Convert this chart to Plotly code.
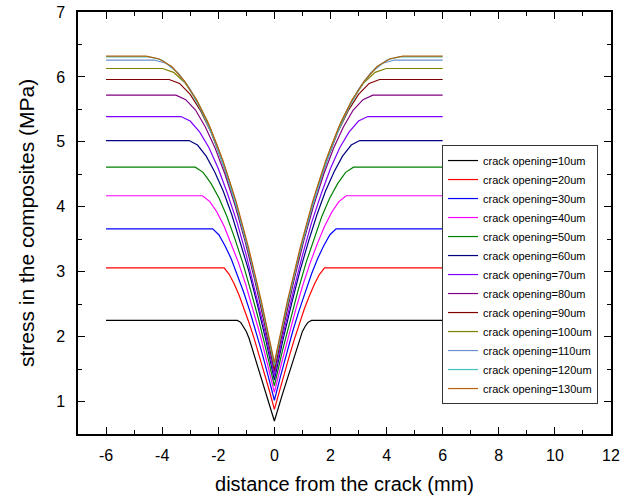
import plotly.graph_objects as go

labels = ["crack opening=10um", "crack opening=20um", "crack opening=30um",
          "crack opening=40um", "crack opening=50um", "crack opening=60um",
          "crack opening=70um", "crack opening=80um", "crack opening=90um",
          "crack opening=100um", "crack opening=110um", "crack opening=120um",
          "crack opening=130um"]

colors = ["#000000", "#FF0000", "#0000FF", "#FF00FF", "#008000", "#000080",
          "#8000FF", "#800080", "#800000", "#808000", "#6A8FCC", "#40BFBF", "#B8600A"]

# right half (x >= 0) of each symmetric curve; the plateau runs to x = 6
x_half = [
    [0, 0.30, 0.60, 0.90, 1.00, 1.10, 1.20, 1.32],
    [0, 0.18, 0.36, 0.54, 0.72, 0.90, 1.07, 1.25, 1.43, 1.61, 1.79],
    [0, 0.22, 0.44, 0.66, 0.88, 1.10, 1.32, 1.54, 1.76, 1.98, 2.20],
    [0, 0.26, 0.51, 0.77, 1.02, 1.28, 1.54, 1.79, 2.05, 2.30, 2.56],
    [0, 0.28, 0.56, 0.85, 1.13, 1.41, 1.69, 1.97, 2.26, 2.54, 2.82],
    [0, 0.30, 0.61, 0.91, 1.22, 1.52, 1.82, 2.13, 2.43, 2.74, 3.04],
    [0, 0.33, 0.67, 1.00, 1.33, 1.67, 2.00, 2.33, 2.66, 3.00, 3.33],
    [0, 0.35, 0.70, 1.05, 1.40, 1.76, 2.11, 2.46, 2.81, 3.16, 3.51],
    [0, 0.38, 0.75, 1.13, 1.50, 1.88, 2.25, 2.63, 3.00, 3.38, 3.75],
    [0, 0.40, 0.80, 1.20, 1.60, 2.00, 2.39, 2.79, 3.19, 3.59, 3.99],
    [0, 0.43, 0.86, 1.29, 1.72, 2.15, 2.57, 3.00, 3.43, 3.86, 4.29],
    [0, 0.45, 0.89, 1.34, 1.78, 2.23, 2.68, 3.12, 3.57, 4.01, 4.46],
    [0, 0.46, 0.92, 1.37, 1.83, 2.29, 2.75, 3.21, 3.66, 4.12, 4.58],
]
y_half = [
    [0.70, 1.13, 1.55, 1.97, 2.08, 2.16, 2.22, 2.25],
    [0.88, 1.17, 1.45, 1.71, 1.97, 2.21, 2.43, 2.63, 2.81, 2.96, 3.06],
    [1.02, 1.39, 1.75, 2.09, 2.40, 2.69, 2.96, 3.20, 3.40, 3.57, 3.66],
    [1.14, 1.60, 2.03, 2.43, 2.80, 3.14, 3.44, 3.70, 3.92, 4.08, 4.17],
    [1.24, 1.77, 2.26, 2.72, 3.14, 3.51, 3.85, 4.13, 4.36, 4.53, 4.61],
    [1.33, 1.94, 2.50, 3.01, 3.47, 3.88, 4.24, 4.54, 4.78, 4.95, 5.02],
    [1.40, 2.07, 2.69, 3.25, 3.76, 4.20, 4.59, 4.91, 5.15, 5.32, 5.39],
    [1.46, 2.20, 2.87, 3.48, 4.02, 4.50, 4.90, 5.23, 5.49, 5.65, 5.72],
    [1.50, 2.29, 3.01, 3.66, 4.23, 4.72, 5.14, 5.48, 5.73, 5.90, 5.96],
    [1.53, 2.36, 3.12, 3.79, 4.39, 4.90, 5.32, 5.66, 5.91, 6.07, 6.13],
    [1.56, 2.43, 3.22, 3.92, 4.52, 5.04, 5.47, 5.81, 6.06, 6.21, 6.26],
    [1.58, 2.48, 3.28, 3.99, 4.61, 5.13, 5.55, 5.88, 6.12, 6.26, 6.31],
    [1.60, 2.54, 3.37, 4.09, 4.71, 5.22, 5.63, 5.94, 6.16, 6.28, 6.32],
]
x_end = 6

x_tick_vals = [-6, -4, -2, 0, 2, 4, 6, 8, 10, 12]
x_tick_text = ["-6", "-4", "-2", "0", "2", "4", "6", "8", "10", "12"]
y_tick_vals = [1, 2, 3, 4, 5, 6, 7]
y_tick_text = ["1", "2", "3", "4", "5", "6", "7"]

fig = go.Figure()
for lab, col, xh, yh in zip(labels, colors, x_half, y_half):
    xs = [-x_end] + [-v for v in reversed(xh[1:])] + xh + [x_end]
    ys = [yh[-1]] + list(reversed(yh[1:])) + yh + [yh[-1]]
    fig.add_trace(go.Scatter(x=xs, y=ys, mode="lines", name=lab,
                             line=dict(color=col, width=1.2)))

FONT = "Liberation Sans, Arial, sans-serif"
axis_font = dict(family=FONT, size=16, color="#000")
common = dict(showgrid=False, zeroline=False, showline=True, linecolor="#000",
              linewidth=1.5, mirror="allticks", ticks="inside", ticklen=7,
              tickwidth=1.2, tickcolor="#000", tickfont=axis_font, automargin=False)

fig.update_xaxes(range=[-7, 12], tickmode="array", tickvals=x_tick_vals, ticktext=x_tick_text,
                 minor=dict(dtick=1, tick0=0, ticks="inside", ticklen=4, tickcolor="#000", tickwidth=1.2),
                 title=dict(text="distance from the crack (mm)",
                            font=dict(family=FONT, size=20, color="#000"), standoff=14),
                 ticklabelstandoff=6, **common)
fig.update_yaxes(range=[0.5, 7], tickmode="array", tickvals=y_tick_vals, ticktext=y_tick_text,
                 minor=dict(dtick=0.5, tick0=0, ticks="inside", ticklen=4, tickcolor="#000", tickwidth=1.2),
                 title=dict(text="stress in the composites (MPa)",
                            font=dict(family=FONT, size=21, color="#000"), standoff=16),
                 ticklabelstandoff=8, **common)

fig.update_layout(
    width=637, height=500,
    margin=dict(l=78, r=26, t=12, b=66),
    paper_bgcolor="white", plot_bgcolor="white",
    showlegend=True,
    legend=dict(x=0.683, y=0.071, xanchor="left", yanchor="bottom",
                bgcolor="white", bordercolor="#333", borderwidth=1,
                font=dict(family=FONT, size=11, color="#000"),
                tracegroupgap=0, itemwidth=30),
)

fig.write_html("out.html")
